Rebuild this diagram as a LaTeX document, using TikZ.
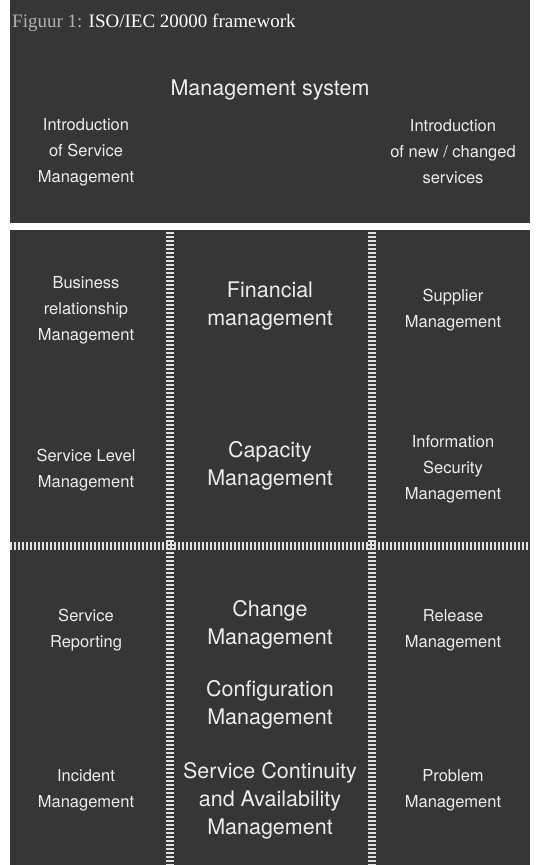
\documentclass[tikz,border=0pt]{standalone}
\usepackage{fontspec}
\setsansfont{TeX Gyre Heros}
\newfontfamily\capfont{Liberation Serif}
\definecolor{panel}{RGB}{54,54,54}
\definecolor{paneltext}{RGB}{236,236,236}
\definecolor{capgray}{RGB}{178,178,178}

\begin{document}
\begin{tikzpicture}[x=1pt,y=-1pt]
  \tikzset{box/.style     = {fill=panel,draw=none},
           small/.style   = {text=paneltext,align=center,
                             font=\sffamily\fontsize{16.5}{26}\selectfont},
           large/.style   = {text=paneltext,align=center,
                             font=\sffamily\fontsize{21.5}{28}\selectfont},
           sepline/.style = {draw=white!88!black,line width=8pt,
                             dash pattern=on 2pt off 2pt}}
  \useasboundingbox (0,0) rectangle (536,865);
  \fill[box] (10,0) rectangle (530,223);
  \fill[box] (10,230) rectangle (530,865);
  \node[anchor=base west,inner sep=0pt,font=\capfont\fontsize{19}{22}\selectfont]
    (caption) at (12,27) {\textcolor{capgray}{Figuur 1:} \textcolor{white}{ISO/IEC 20000 framework}};
  \node[large] (mgmt)  at (270,90)  {Management system};
  \node[small] (intro) at (86,152)  {Introduction\\of Service\\Management};
  \node[small] (new)   at (453,152) {Introduction\\of new / changed\\services};
  \coordinate (vl1) at (169.5,232);
  \coordinate (vl2) at (169.5,865);
  \coordinate (vr1) at (372,232);
  \coordinate (vr2) at (372,865);
  \coordinate (hl1) at (10,546);
  \coordinate (hl2) at (530,546);
  \draw[sepline] (vl1) -- (vl2);
  \draw[sepline] (vr1) -- (vr2);
  \draw[sepline] (hl1) -- (hl2);
  \node[small] (brm)  at (86,310)  {Business\\relationship\\Management};
  \node[small] (slm)  at (86,470)  {Service Level\\Management};
  \node[small] (srep) at (86,630)  {Service\\Reporting};
  \node[small] (inc)  at (86,790)  {Incident\\Management};
  \node[large] (fin)  at (270,306) {Financial\\management};
  \node[large] (cap)  at (270,466) {Capacity\\Management};
  \node[large] (chg)  at (270,625) {Change\\Management};
  \node[large] (cfg)  at (270,705) {Configuration\\Management};
  \node[large] (sca)  at (270,801) {Service Continuity\\and Availability\\Management};
  \node[small] (sup)  at (453,310) {Supplier\\Management};
  \node[small] (ism)  at (453,469) {Information\\Security\\Management};
  \node[small] (rel)  at (453,630) {Release\\Management};
  \node[small] (prb)  at (453,790) {Problem\\Management};
\end{tikzpicture}
\end{document}
